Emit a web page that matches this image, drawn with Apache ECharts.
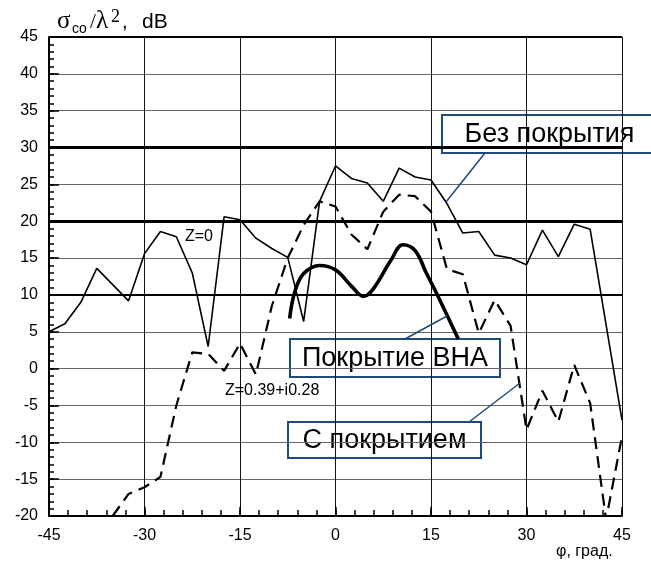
<!DOCTYPE html>
<html><head><meta charset="utf-8">
<script src="https://cdn.jsdelivr.net/npm/echarts@6/dist/echarts.min.js"></script>
<style>html,body{margin:0;padding:0;background:#fff}#c{width:651px;height:562px}</style>
</head><body><div id="c"></div>
<script>
// ---- data ----
const noCoatX = [-45,-42.5,-40,-37.5,-32.5,-30,-27.5,-25,-22.5,-20,-17.5,-15,-12.5,-10,-7.5,-5,-2.5,0,2.5,5,7.5,10,12.5,15,17.5,20,22.5,25,27.5,30,32.5,35,37.5,40,45];
const noCoatY = [5,6.1,9,13.6,9.2,15.6,18.6,17.9,13,3,20.6,20.2,17.7,16.3,15.1,6.4,22.7,27.5,25.8,25.2,22.7,27.2,26,25.6,22.4,18.4,18.6,15.4,15,14.1,18.8,15.2,19.6,18.9,-7];
const coatX = [-35,-32.5,-30,-27.5,-25,-22.5,-20,-17.5,-15,-12.5,-10,-7.5,-5,-2.5,0,2.5,5,7.5,10,12.5,15,17.5,20,22.5,25,27.5,30,32.5,35,37.5,40,42.5,45];
const coatY = [-20,-17,-16.1,-14.7,-5,2.2,2,-0.3,3.4,-0.8,8.5,15,19.5,22.7,22,18.2,16.2,21.3,23.6,23.4,21.3,13.5,12.8,4.8,9.3,5.8,-8.3,-3,-7.2,0.5,-4.7,-20.5,-9.2];
const bnaX = [-7.2,-6.4,-5,-2.5,0,2.5,4.4,6,8.7,10.6,12.5,14.3,16,19.3];
const bnaY = [6.8,10.4,12.9,14,13.4,11.2,9.8,10.9,14.7,16.8,16,12.9,10,4];
const refLevels = [30,20,10];
const topLevel = 45;
const labels = {noCoat:'Без покрытия', bna:'Покрытие ВНА', coat:'С покрытием', z0:'Z=0', z1:'Z=0.39+i0.28', xName:'φ, град.'};

const pair = (xs, ys) => xs.map((x, i) => [x, ys[i]]);
const SANS = "'Liberation Sans', Arial, sans-serif";
const SERIF = "'Liberation Serif', 'Times New Roman', serif";
const BLUE = '#1d4b7d';

const chart = echarts.init(document.getElementById('c'), null, {renderer: 'canvas'});

function box(x, y, w, h, text, fs) {
  return {
    type: 'group', z: 100,
    children: [
      {type: 'rect', shape: {x: x, y: y, width: w, height: h}, style: {fill: '#fff', stroke: BLUE, lineWidth: 2}},
      {type: 'text', x: x + w / 2, y: y + h / 2 + 1, style: {text: text, fill: '#000', font: fs + 'px ' + SANS, align: 'center', verticalAlign: 'middle'}}
    ]
  };
}
function leader(x1, y1, x2, y2) {
  return {type: 'line', z: 99, shape: {x1: x1, y1: y1, x2: x2, y2: y2}, style: {stroke: BLUE, lineWidth: 1.5}};
}
function txt(x, y, s, font) {
  return {type: 'text', x: x, y: y, z: 50, style: {text: s, font: font, fill: '#000', verticalAlign: 'middle'}};
}
// helper axis carrying only the fine inner ticks
function fineAxis(min, max, step, len, pos) {
  return {
    type: 'value', min: min, max: max, interval: step, z: 10, position: pos,
    axisLine: {show: false, onZero: false}, axisLabel: {show: false}, splitLine: {show: false},
    axisTick: {show: true, inside: true, length: len, lineStyle: {color: '#000', width: 1.5}}
  };
}

const option = {
  animation: false,
  backgroundColor: '#fff',
  grid: {left: 49, right: 29, top: 37, bottom: 46, containLabel: false},
  xAxis: [{
    type: 'value', min: -45, max: 45, interval: 15, position: 'bottom',
    axisLine: {show: true, onZero: false, lineStyle: {color: '#000', width: 2}},
    axisTick: {show: true, inside: true, length: 9, lineStyle: {color: '#000', width: 1.5}},
    axisLabel: {color: '#000', fontSize: 16, fontFamily: SANS, margin: 12},
    splitLine: {show: true, lineStyle: {color: '#111', width: 1}}
  }, fineAxis(-45, 45, 3, 6, 'bottom')],
  yAxis: [{
    type: 'value', min: -20, max: 45, interval: 5, position: 'left',
    axisLine: {show: true, onZero: false, lineStyle: {color: '#000', width: 2}},
    axisTick: {show: true, inside: true, length: 10, lineStyle: {color: '#000', width: 1.5}},
    axisLabel: {color: '#000', fontSize: 16, fontFamily: SANS, margin: 11},
    splitLine: {show: true, lineStyle: {color: '#666', width: 1}}
  }, fineAxis(-20, 45, 1, 5, 'left')],
  series: [
    {
      type: 'line', name: labels.noCoat, data: pair(noCoatX, noCoatY), symbol: 'none',
      lineStyle: {color: '#000', width: 1.6}, z: 5,
      markLine: {
        silent: true, symbol: 'none', label: {show: false}, animation: false,
        data: [
          {yAxis: refLevels[0], lineStyle: {color: '#000', width: 3, type: 'solid'}},
          {yAxis: refLevels[1], lineStyle: {color: '#000', width: 3, type: 'solid'}},
          {yAxis: refLevels[2], lineStyle: {color: '#000', width: 2, type: 'solid'}},
          {yAxis: topLevel, lineStyle: {color: '#000', width: 2, type: 'solid'}}
        ]
      }
    },
    {
      type: 'line', name: labels.coat, data: pair(coatX, coatY), symbol: 'none', clip: true,
      lineStyle: {color: '#000', width: 2.2, type: [12, 7]}, z: 4
    },
    {
      type: 'line', name: labels.bna, data: pair(bnaX, bnaY), symbol: 'none', smooth: 0.4,
      lineStyle: {color: '#000', width: 3.6}, z: 6
    }
  ],
  graphic: [
    // title sigma_co / lambda^2, dB
    txt(57, 21, 'σ', '25px ' + SERIF),
    txt(72, 29, 'co', '14px ' + SANS),
    txt(90, 22, '/', '21px ' + SERIF),
    txt(96, 21, 'λ', '25px ' + SERIF),
    txt(111, 17, '2', '18px ' + SERIF),
    txt(122, 22, ',', '20px ' + SANS),
    txt(142, 22, 'dB', '21px ' + SANS),
    // x-axis name
    txt(556, 552, labels.xName, '16px ' + SANS),
    // curve tags
    txt(185, 237, labels.z0, '16px ' + SANS),
    txt(225, 391, labels.z1, '16px ' + SANS),
    // leaders and boxes
    leader(485, 153, 446, 202),
    leader(405, 339, 447, 316),
    leader(469, 422, 520, 383),
    box(442, 115, 215, 38, labels.noCoat, 27),
    box(290, 339, 210, 38, labels.bna, 27),
    box(288, 422, 193, 36, labels.coat, 27)
  ]
};
chart.setOption(option);
</script>
</body></html>
